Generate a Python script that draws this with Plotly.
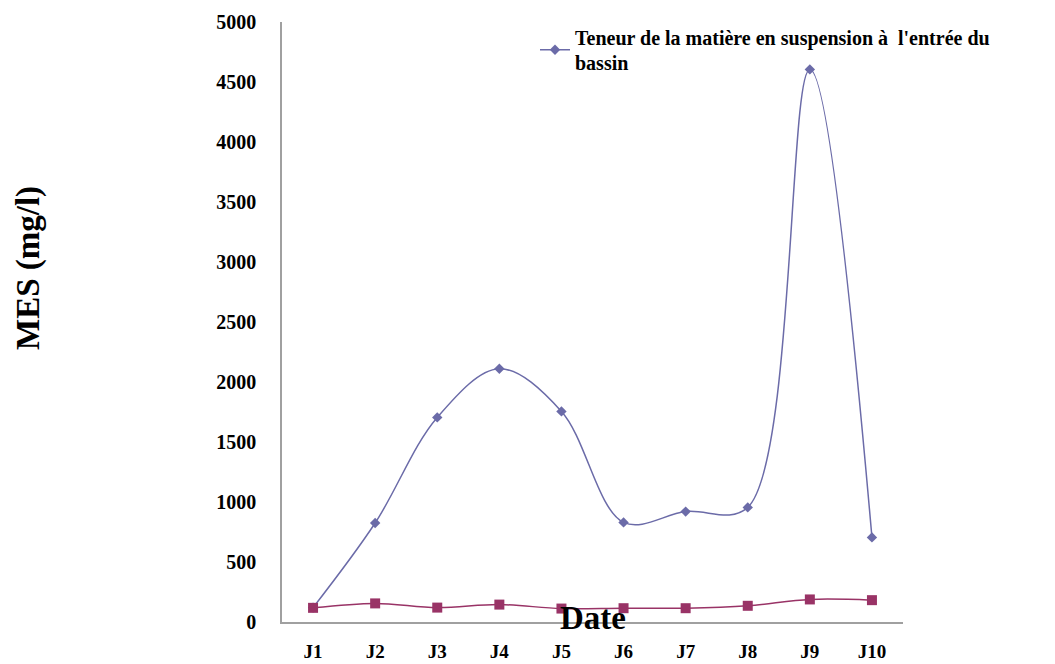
import plotly.graph_objects as go

categories = ["J1", "J2", "J3", "J4", "J5", "J6", "J7", "J8", "J9", "J10"]
entree = [120, 825, 1705, 2110, 1755, 830, 920, 955, 4605, 705]
sortie = [118, 155, 120, 145, 112, 115, 115, 135, 188, 182]
legend_label = "Teneur de la matière en suspension à  l'entrée du<br>bassin"

FONT = "Liberation Serif"

fig = go.Figure()
fig.add_trace(go.Scatter(
    x=categories, y=entree, name=legend_label,
    mode="lines+markers",
    line=dict(color="#6B6BA8", width=1.5, shape="spline", smoothing=1.0),
    marker=dict(symbol="diamond", size=8, color="#6B6BA8"),
    showlegend=True,
))
fig.add_trace(go.Scatter(
    x=categories, y=sortie, name="sortie",
    mode="lines+markers",
    line=dict(color="#993366", width=1.5, shape="spline", smoothing=1.0),
    marker=dict(symbol="square", size=10, color="#993366"),
    showlegend=False,
))

fig.update_layout(
    width=1055, height=664,
    margin=dict(l=282, r=152, t=22, b=42, autoexpand=False),
    paper_bgcolor="white", plot_bgcolor="white",
    font=dict(family=FONT, color="black"),
    legend=dict(
        x=(535 - 282) / 621, y=1.008, xanchor="left", yanchor="top",
        font=dict(family=FONT, size=20, color="black", weight="bold"),
        bgcolor="rgba(0,0,0,0)", itemwidth=30,
    ),
    xaxis=dict(
        type="category", range=[-0.5, 9.5], automargin=False,
        showline=True, linecolor="#A0A0A0", linewidth=1.5,
        showgrid=False, zeroline=False, ticks="",
        tickfont=dict(family=FONT, size=19, color="black", weight="bold"),
        ticklabelstandoff=11,
    ),
    yaxis=dict(
        range=[0, 5000], dtick=500, automargin=False,
        showline=True, linecolor="#A0A0A0", linewidth=1.5,
        showgrid=False, zeroline=False, ticks="",
        tickfont=dict(family=FONT, size=20, color="black", weight="bold"),
        ticklabelstandoff=20,
    ),
    annotations=[
        dict(text="MES (mg/l)", xref="paper", yref="paper",
             x=-282/621 + 28/621, y=(622-268)/600, xanchor="center", yanchor="middle",
             textangle=-90, showarrow=False,
             font=dict(family=FONT, size=33, color="black", weight="bold")),
        dict(text="Date", xref="paper", yref="paper",
             x=(593-282)/621, y=(622-618)/600, xanchor="center", yanchor="middle",
             showarrow=False,
             font=dict(family=FONT, size=33, color="black", weight="bold")),
    ],
)

fig.write_html("out.html")
